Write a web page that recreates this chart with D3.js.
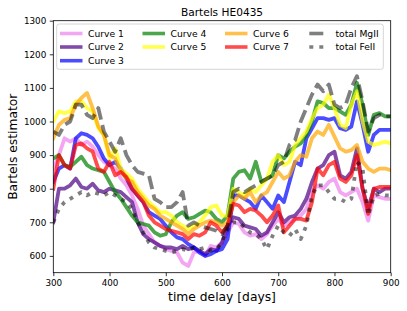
<!DOCTYPE html>
<html><head><meta charset="utf-8">
<script src="https://cdn.jsdelivr.net/npm/d3@7"></script>
<style>body{margin:0;background:#fff}svg{display:block;font-family:"DejaVu Sans",sans-serif}</style>
</head><body><svg id="c" width="407" height="311"></svg>
<script>
const days = [300,310,320,330,340,350,360,370,380,390,400,410,420,430,440,450,460,470,480,490,500,510,520,530,540,550,560,570,580,590,600,610,620,630,640,650,660,670,680,690,700,710,720,730,740,750,760,770,780,790,800,810,820,830,840,850,860,870,880,890,900];
const curve1 = [860,900,950,940,950,930,940,925,900,880, 870,860,830,810,780,740,690,665,640,630, 620,615,610,580,570,610,615,600,630,625, 640,670,700,695,670,660,665,650,665,690, 710,690,700,710,720,740,790,810,800,820, 830,790,780,790,800,760,705,780,775,770, 770];
const curve2 = [700,800,800,810,830,805,800,815,795,790, 800,795,790,775,760,700,665,650,640,630, 625,625,620,630,620,625,615,605,620,615, 640,690,715,710,690,685,680,660,670,700, 730,700,715,720,740,770,820,860,870,900, 910,840,830,850,920,800,740,800,790,800, 800];
const curve3 = [820,860,870,860,950,965,960,950,925,890, 870,880,860,830,800,780,760,730,720,710, 690,670,655,650,635,625,610,600,605,615, 620,650,780,780,770,760,740,780,760,740, 780,760,820,880,870,950,980,1010,1010,1005, 1010,980,975,985,1060,990,910,960,975,975, 975];
const curve4 = [890,900,870,865,880,895,870,860,855,850, 820,790,770,745,720,700,695,690,670,660, 665,700,720,730,710,715,725,735,730,710, 700,720,830,850,855,830,880,820,830,840, 900,890,910,925,935,960,1000,1060,1055,1040, 1040,1030,1020,1050,1115,1050,960,1020,1025,1015, 1015];
const curve5 = [1000,1030,1025,1030,1060,1060,1040,1030,980,960, 890,920,860,845,830,800,780,760,745,730, 730,720,700,690,680,690,700,720,745,750, 720,720,800,790,780,800,790,810,830,880, 900,870,880,930,950,970,1010,1040,1050,1080, 1040,990,980,1050,1090,1000,940,930,935,940, 935];
const curve6 = [950,990,1005,1010,1050,1070,1085,1040,985,960, 900,890,850,830,820,790,770,750,740,720, 710,700,690,680,665,680,690,700,705,700, 690,700,760,780,770,790,760,780,790,820, 850,830,840,880,900,895,950,970,960,990, 955,920,910,915,930,880,860,850,860,860, 855];
const curve7 = [800,900,870,860,930,935,920,910,860,850, 880,840,850,835,800,780,760,720,700,690, 680,675,670,665,650,665,660,670,700,690, 670,690,755,750,730,740,735,720,700,720, 750,670,690,710,710,705,760,860,840,870, 880,830,820,840,900,800,725,800,805,805, 805];
const totalMgII = [970,960,990,1000,1050,1050,1020,1010,1040,970, 940,910,950,900,870,850,845,840,770,760, 745,745,760,790,690,700,690,685,680,675, 665,690,790,800,790,800,810,820,830,840, 870,880,930,945,1000,1040,1080,1110,1090,1110, 1050,1040,1050,1100,1135,1060,970,1010,1020,1015, 1015];
const totalFeII = [700,740,760,770,780,790,780,790,785,780, 790,780,770,760,740,700,670,640,625,620, 615,610,615,620,615,625,620,625,615,620, 640,680,700,700,685,670,665,650,620,660, 690,670,660,680,650,690,780,810,810,790, 770,770,760,770,880,860,720,780,785,780, 780];
const xTicks = [300,400,500,600,700,800,900];
const yTicks = [600,700,800,900,1000,1100,1200,1300];
const seriesNames = ["Curve 1","Curve 2","Curve 3","Curve 4","Curve 5","Curve 6","Curve 7","total MgII","total FeII"];
const seriesValues = [curve1,curve2,curve3,curve4,curve5,curve6,curve7,totalMgII,totalFeII];
const colors = ["violet","indigo","blue","green","yellow","orange","red","black","black"];
const opac = [0.7,0.7,0.7,0.7,0.7,0.7,0.7,0.5,0.5];
const dashes = [null,null,null,null,null,null,null,"13.5,5.5","3.8,6"];

const svg = d3.select("#c");
const L=53.3, R=390.7, T=20.7, B=272.7;
const x = d3.scaleLinear().domain([300,900]).range([L,R]);
const y = d3.scaleLinear().domain([550,1300]).range([B,T]);

svg.append("defs").append("clipPath").attr("id","clip").append("rect")
  .attr("x",L).attr("y",T).attr("width",R-L).attr("height",B-T);

const line = d3.line().x((d,i)=>x(days[i])).y(d=>y(d));
const g = svg.append("g").attr("clip-path","url(#clip)");
seriesValues.forEach((vals,k)=>{
  g.append("path").attr("d",line(vals)).attr("fill","none")
   .attr("stroke",colors[k]).attr("stroke-opacity",opac[k])
   .attr("stroke-width",3.8).attr("stroke-linejoin","round")
   .attr("stroke-linecap", dashes[k]?"butt":"square")
   .attr("stroke-dasharray",dashes[k]);
});

// axes
const xa = svg.append("g").attr("transform",`translate(0,${B})`)
  .call(d3.axisBottom(x).tickValues(xTicks).tickSize(3.5).tickPadding(3.5).tickFormat(d3.format("d")));
const ya = svg.append("g").attr("transform",`translate(${L},0)`)
  .call(d3.axisLeft(y).tickValues(yTicks).tickSize(3.5).tickPadding(3.5).tickFormat(d3.format("d")));
[xa,ya].forEach(a=>{
  a.select(".domain").remove();
  a.selectAll("text").attr("font-size","8.8px").attr("fill","#000").attr("font-family","DejaVu Sans");
  a.selectAll("line").attr("stroke","#000").attr("stroke-width",0.8);
});
svg.append("rect").attr("x",L).attr("y",T).attr("width",R-L).attr("height",B-T)
  .attr("fill","none").attr("stroke","#000").attr("stroke-width",0.8);

// legend
const lg = svg.append("g");
lg.append("rect").attr("x",56.7).attr("y",24).attr("width",326.6).attr("height",45.3)
  .attr("rx",2.5).attr("fill","#fff").attr("fill-opacity",0.8).attr("stroke","#cccccc").attr("stroke-width",0.8);
const colX = [60,142.5,225,307.5];
const rowY = [33.5,47,60.7];
const layout = [[0,0],[0,1],[0,2],[1,0],[1,1],[2,0],[2,1],[3,0],[3,1]];
layout.forEach(([c,r],k)=>{
  const x0 = colX[c], yy = rowY[r];
  const x1 = k>=7 ? x0+1.8 : x0, x2 = k>=7 ? x0+15.8 : x0+22.5;
  lg.append("line").attr("x1",x1).attr("x2",x2).attr("y1",yy).attr("y2",yy)
    .attr("stroke",colors[k]).attr("stroke-opacity",opac[k]).attr("stroke-width",3.6)
    .attr("stroke-dasharray", k===8 ? "4,6" : null);
  lg.append("text").attr("x",x0+28).attr("y",yy+3.3).attr("font-size","9.2px").text(seriesNames[k]);
});

// titles
svg.append("text").attr("x",(L+R)/2).attr("y",16.3).attr("text-anchor","middle").attr("font-size","10.6px").text("Bartels HE0435");
svg.append("text").attr("x",(L+R)/2).attr("y",300.5).attr("text-anchor","middle").attr("font-size","12.3px").text("time delay [days]");
svg.append("text").attr("transform",`translate(16.5,${(T+B)/2}) rotate(-90)`).attr("text-anchor","middle").attr("font-size","12.3px").text("Bartels estimator");
</script></body></html>
